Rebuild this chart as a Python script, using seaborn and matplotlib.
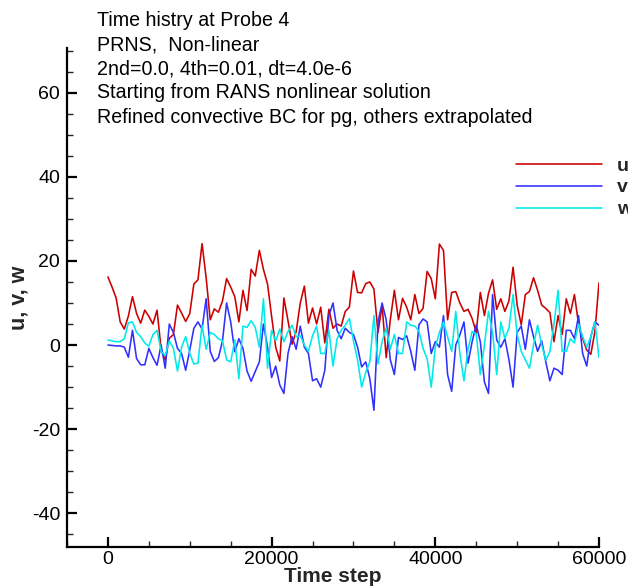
import numpy as np
import pandas as pd
import matplotlib
matplotlib.use("Agg")
import matplotlib.pyplot as plt
import seaborn as sns
from matplotlib.ticker import MultipleLocator

time_step = np.arange(0, 60001, 500)
u = [16.2, 13.8, 11.2, 5.5, 3.8, 6.9, 11.5, 7.5, 5.2, 8.3,
     6.8, 5.0, 8.3, -1.0, -3.6, 1.6, 2.5, 9.5, 7.6, 5.6,
     7.5, 14.5, 15.5, 24.1, 16.0, 6.0, 8.6, 7.8, 10.5, 15.8,
     13.8, 11.5, 5.5, 13.0, 8.2, 18.0, 16.4, 22.5, 18.0, 14.5,
     6.8, -0.5, -3.8, 11.2, 5.8, 0.2, 3.2, 10.0, 14.0, 5.2,
     8.8, 5.0, 9.0, 0.5, 8.5, 4.0, 5.0, 4.5, 8.0, 9.0,
     17.6, 12.5, 12.4, 14.6, 15.0, 13.3, 3.0, 9.5, -3.0, 6.0,
     13.0, 6.0, 11.1, 9.0, 6.0, 12.0, 7.5, 8.7, 17.5, 15.8,
     11.0, 24.0, 22.5, 6.0, 12.5, 12.7, 10.0, 8.0, 8.5, 6.3,
     3.0, 12.5, 7.0, 12.3, 15.5, 8.5, 11.0, 8.0, 10.5, 18.5,
     9.5, 4.8, 12.0, 12.7, 16.0, 13.0, 9.5, 8.7, 7.7, 0.8,
     7.0, 2.5, 11.0, 7.5, 12.0, 5.0, 1.6, -1.2, -2.2, 3.2,
     14.8]
v = [0.0, -0.1, -0.2, -0.2, -0.5, -2.9, 3.5, -3.2, -4.7, -4.7,
     -0.8, -3.0, -4.8, 0.0, -5.5, 5.0, 3.0, -0.8, -2.0, -6.0,
     -1.2, 4.0, 5.5, 3.8, 11.0, -1.5, -3.9, -3.0, 1.0, 10.0,
     5.5, -1.6, 1.5, -0.8, -6.2, -8.6, -6.3, -4.0, 5.0, -0.5,
     -7.7, -5.0, -9.5, -11.5, -2.0, 2.0, -1.0, 4.5, -0.5, -2.0,
     -8.5, -8.0, -10.0, -6.0, 7.0, 10.0, 3.5, 1.5, 4.0, 3.0,
     2.5, -0.5, -5.2, -4.0, -8.0, -15.5, 5.5, 10.0, 6.0, -3.5,
     -7.0, 1.8, 1.3, 2.2, -1.5, -6.0, 4.8, 6.2, 5.5, -2.0,
     0.8, -0.5, 7.0, -7.0, -11.0, 0.0, 2.4, 5.5, -4.3, 0.8,
     4.8, 0.8, -8.8, -11.5, 12.0, 1.2, -0.5, 1.5, -3.5, -10.0,
     3.0, 4.5, -1.0, 6.0, 2.0, -1.5, 1.0, -4.0, -8.5, -5.5,
     -6.0, -7.0, 3.5, 3.5, 1.5, 7.0, -2.0, -5.0, 2.0, 5.5,
     4.7]
w = [1.2, 1.0, 0.8, 0.8, 1.5, 5.3, 5.5, 3.0, 2.0, 0.5,
     -0.3, 2.5, 3.5, -1.5, -2.5, 1.0, -0.8, -6.2, -0.5, 2.0,
     -2.0, -4.5, -4.3, 4.7, -1.0, 3.0, 2.5, 1.5, 1.0, -3.5,
     -4.0, 1.2, -8.0, 4.5, 4.2, 5.8, 4.2, -0.5, 11.0, -5.5,
     3.5, 1.0, 3.8, 0.8, 3.2, 4.7, 2.0, 2.2, 0.0, -1.5,
     2.2, 4.5, -2.0, -2.0, 3.5, -5.0, 1.5, 3.5, 4.7, 6.3,
     1.0, -3.5, -10.0, -6.5, -4.0, 7.0, -4.5, 0.8, 4.0, -1.0,
     2.5, -2.0, -2.0, 5.5, 4.7, 4.5, 3.3, -0.8, -3.2, -10.0,
     -0.5, 3.0, 5.5, 2.0, -1.5, 8.0, -2.0, -8.5, -1.0, 3.2,
     2.7, -7.0, 0.0, 8.0, 3.0, -7.0, 5.5, 1.6, 4.0, 12.0,
     2.5, -1.5, -3.5, -5.5, 0.0, 4.7, 0.0, -3.6, -1.5, 5.0,
     13.0, -1.5, -1.5, 1.5, 0.5, 5.0, 2.0, -0.5, 2.0, 5.5,
     -3.0]
series_names = ["u", "v", "w"]
series_colors = ["#cc0000", "#3030ff", "#00eaea"]
header_lines = [
    "Time histry at Probe 4",
    "PRNS,  Non-linear",
    "2nd=0.0, 4th=0.01, dt=4.0e-6",
    "Starting from RANS nonlinear solution",
    "Refined convective BC for pg, others extrapolated",
]

df = pd.DataFrame({
    "Time step": np.tile(time_step, 3),
    "value": np.concatenate([u, v, w]),
    "var": np.repeat(series_names, len(time_step)),
})

sns.set_theme(style="white")
plt.rcParams["font.family"] = ["Liberation Sans", "DejaVu Sans"]
plt.rcParams["axes.unicode_minus"] = False

W, H = 628, 588
fig = plt.figure(figsize=(W / 100, H / 100), dpi=100)
ax = fig.add_axes([67 / W, 1 - 547 / H, (599 - 67) / W, (547 - 48) / H])

sns.lineplot(data=df, x="Time step", y="value", hue="var",
             palette=dict(zip(series_names, series_colors)),
             linewidth=1.15, ax=ax, legend=True)

ax.set_xlim(-5000, 60000)
ax.set_ylim(-48, 70.6)
ax.set_xticks([0, 20000, 40000, 60000])
ax.set_yticks([-40, -20, 0, 20, 40, 60])
ax.xaxis.set_minor_locator(MultipleLocator(5000))
ax.yaxis.set_minor_locator(MultipleLocator(5))

for side in ["top", "right"]:
    ax.spines[side].set_visible(False)
for side in ["left", "bottom"]:
    ax.spines[side].set_linewidth(1.6)
    ax.spines[side].set_color("black")

ax.tick_params(which="major", direction="in", length=7, width=1.6,
               labelsize=14, colors="black", pad=5,
               left=True, bottom=True)
ax.tick_params(axis="x", which="major", pad=3)
ax.tick_params(which="minor", direction="in", length=4, width=1.0,
               left=True, bottom=True)

ax.set_xlabel("Time step", fontsize=15, fontweight="bold")
ax.set_ylabel("u, v, w", fontsize=15.5, fontweight="bold")
ax.xaxis.set_label_coords(0.5, -0.041)
ax.yaxis.set_label_coords(-0.070, 0.5)

handles, labels = ax.get_legend_handles_labels()
ax.legend(handles, labels, loc="upper left",
          bbox_to_anchor=(516 / W, 1 - 157 / H), bbox_transform=fig.transFigure,
          frameon=False, prop={"weight": "bold", "size": 14},
          handlelength=4.4, handletextpad=0.8, labelspacing=0.22,
          borderpad=0, borderaxespad=0)

for i, line in enumerate(header_lines):
    fig.text(97 / W, 1 - (21 + 24 * i) / H, line, fontsize=14.1,
             ha="left", va="center", color="black")

fig.savefig("out.png", dpi=100, facecolor="white")
